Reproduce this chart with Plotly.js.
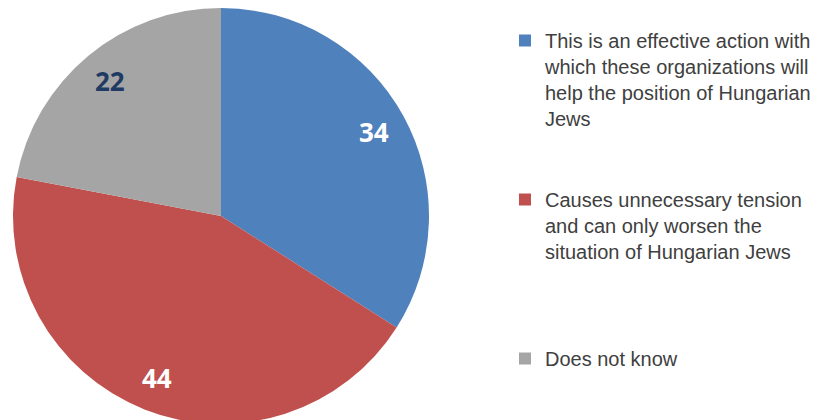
<!DOCTYPE html>
<html>
<head>
<meta charset="utf-8">
<script src="https://cdn.plot.ly/plotly-3.0.1.min.js"></script>
<style>
html,body{margin:0;padding:0;overflow:hidden;background:#fff;}
#chart{width:815px;height:424px;}
</style>
</head>
<body>
<div id="chart"></div>
<script>
var categories = [
  "This is an effective action with<br>which these organizations will<br>help the position of Hungarian<br>Jews<br> <br> ",
  "Causes unnecessary tension<br>and can only worsen the<br>situation of Hungarian Jews<br> <br> <br> ",
  "Does not know"
];
var values = [34, 44, 22];
var colors = ["#4F81BD", "#C0504D", "#A5A5A5"];
var labelColors = ["#FFFFFF", "#FFFFFF", "#1F3B64"];

var W = 815, H = 424, T = 8;
var plotH = H - T;
var cxPx = 221, cyPx = 216, R = 208;   // pie center / radius (pixels), matches the domain below
var labelR = 0.84;

var trace = {
  type: "pie",
  labels: categories,
  values: values,
  sort: false,
  direction: "clockwise",
  rotation: 0,
  marker: {colors: colors, line: {width: 0}},
  textinfo: "none",
  hoverinfo: "none",
  domain: {x: [(cxPx - R) / W, (cxPx + R) / W], y: [0, 1]}
};

// value labels placed at each slice's mid-angle, derived from the data
var total = values.reduce(function (a, b) { return a + b; }, 0);
var annotations = [];
var cum = 0;
for (var i = 0; i < values.length; i++) {
  var mid = (cum + values[i] / 2) / total * 2 * Math.PI;
  cum += values[i];
  var px = cxPx + labelR * R * Math.sin(mid);
  var py = cyPx - labelR * R * Math.cos(mid);
  annotations.push({
    x: px / W,
    y: 1 - (py - T) / plotH,
    xref: "paper", yref: "paper",
    text: String(values[i]),
    showarrow: false,
    xanchor: "center", yanchor: "middle",
    font: {family: "Open Sans", size: 26, color: labelColors[i], weight: "bold"}
  });
}

var layout = {
  width: W,
  height: H,
  margin: {l: 0, r: 0, t: T, b: 0, autoexpand: false},
  paper_bgcolor: "#ffffff",
  showlegend: true,
  annotations: annotations,
  legend: {
    x: 505 / W,
    xanchor: "left",
    y: 1 - 13 / plotH,
    yanchor: "top",
    valign: "top",
    itemgap: 3,
    font: {family: "Liberation Sans", size: 20, color: "#404040"},
    bgcolor: "rgba(0,0,0,0)"
  }
};

Plotly.newPlot("chart", [trace], layout, {displayModeBar: false, staticPlot: true});
</script>
</body>
</html>
